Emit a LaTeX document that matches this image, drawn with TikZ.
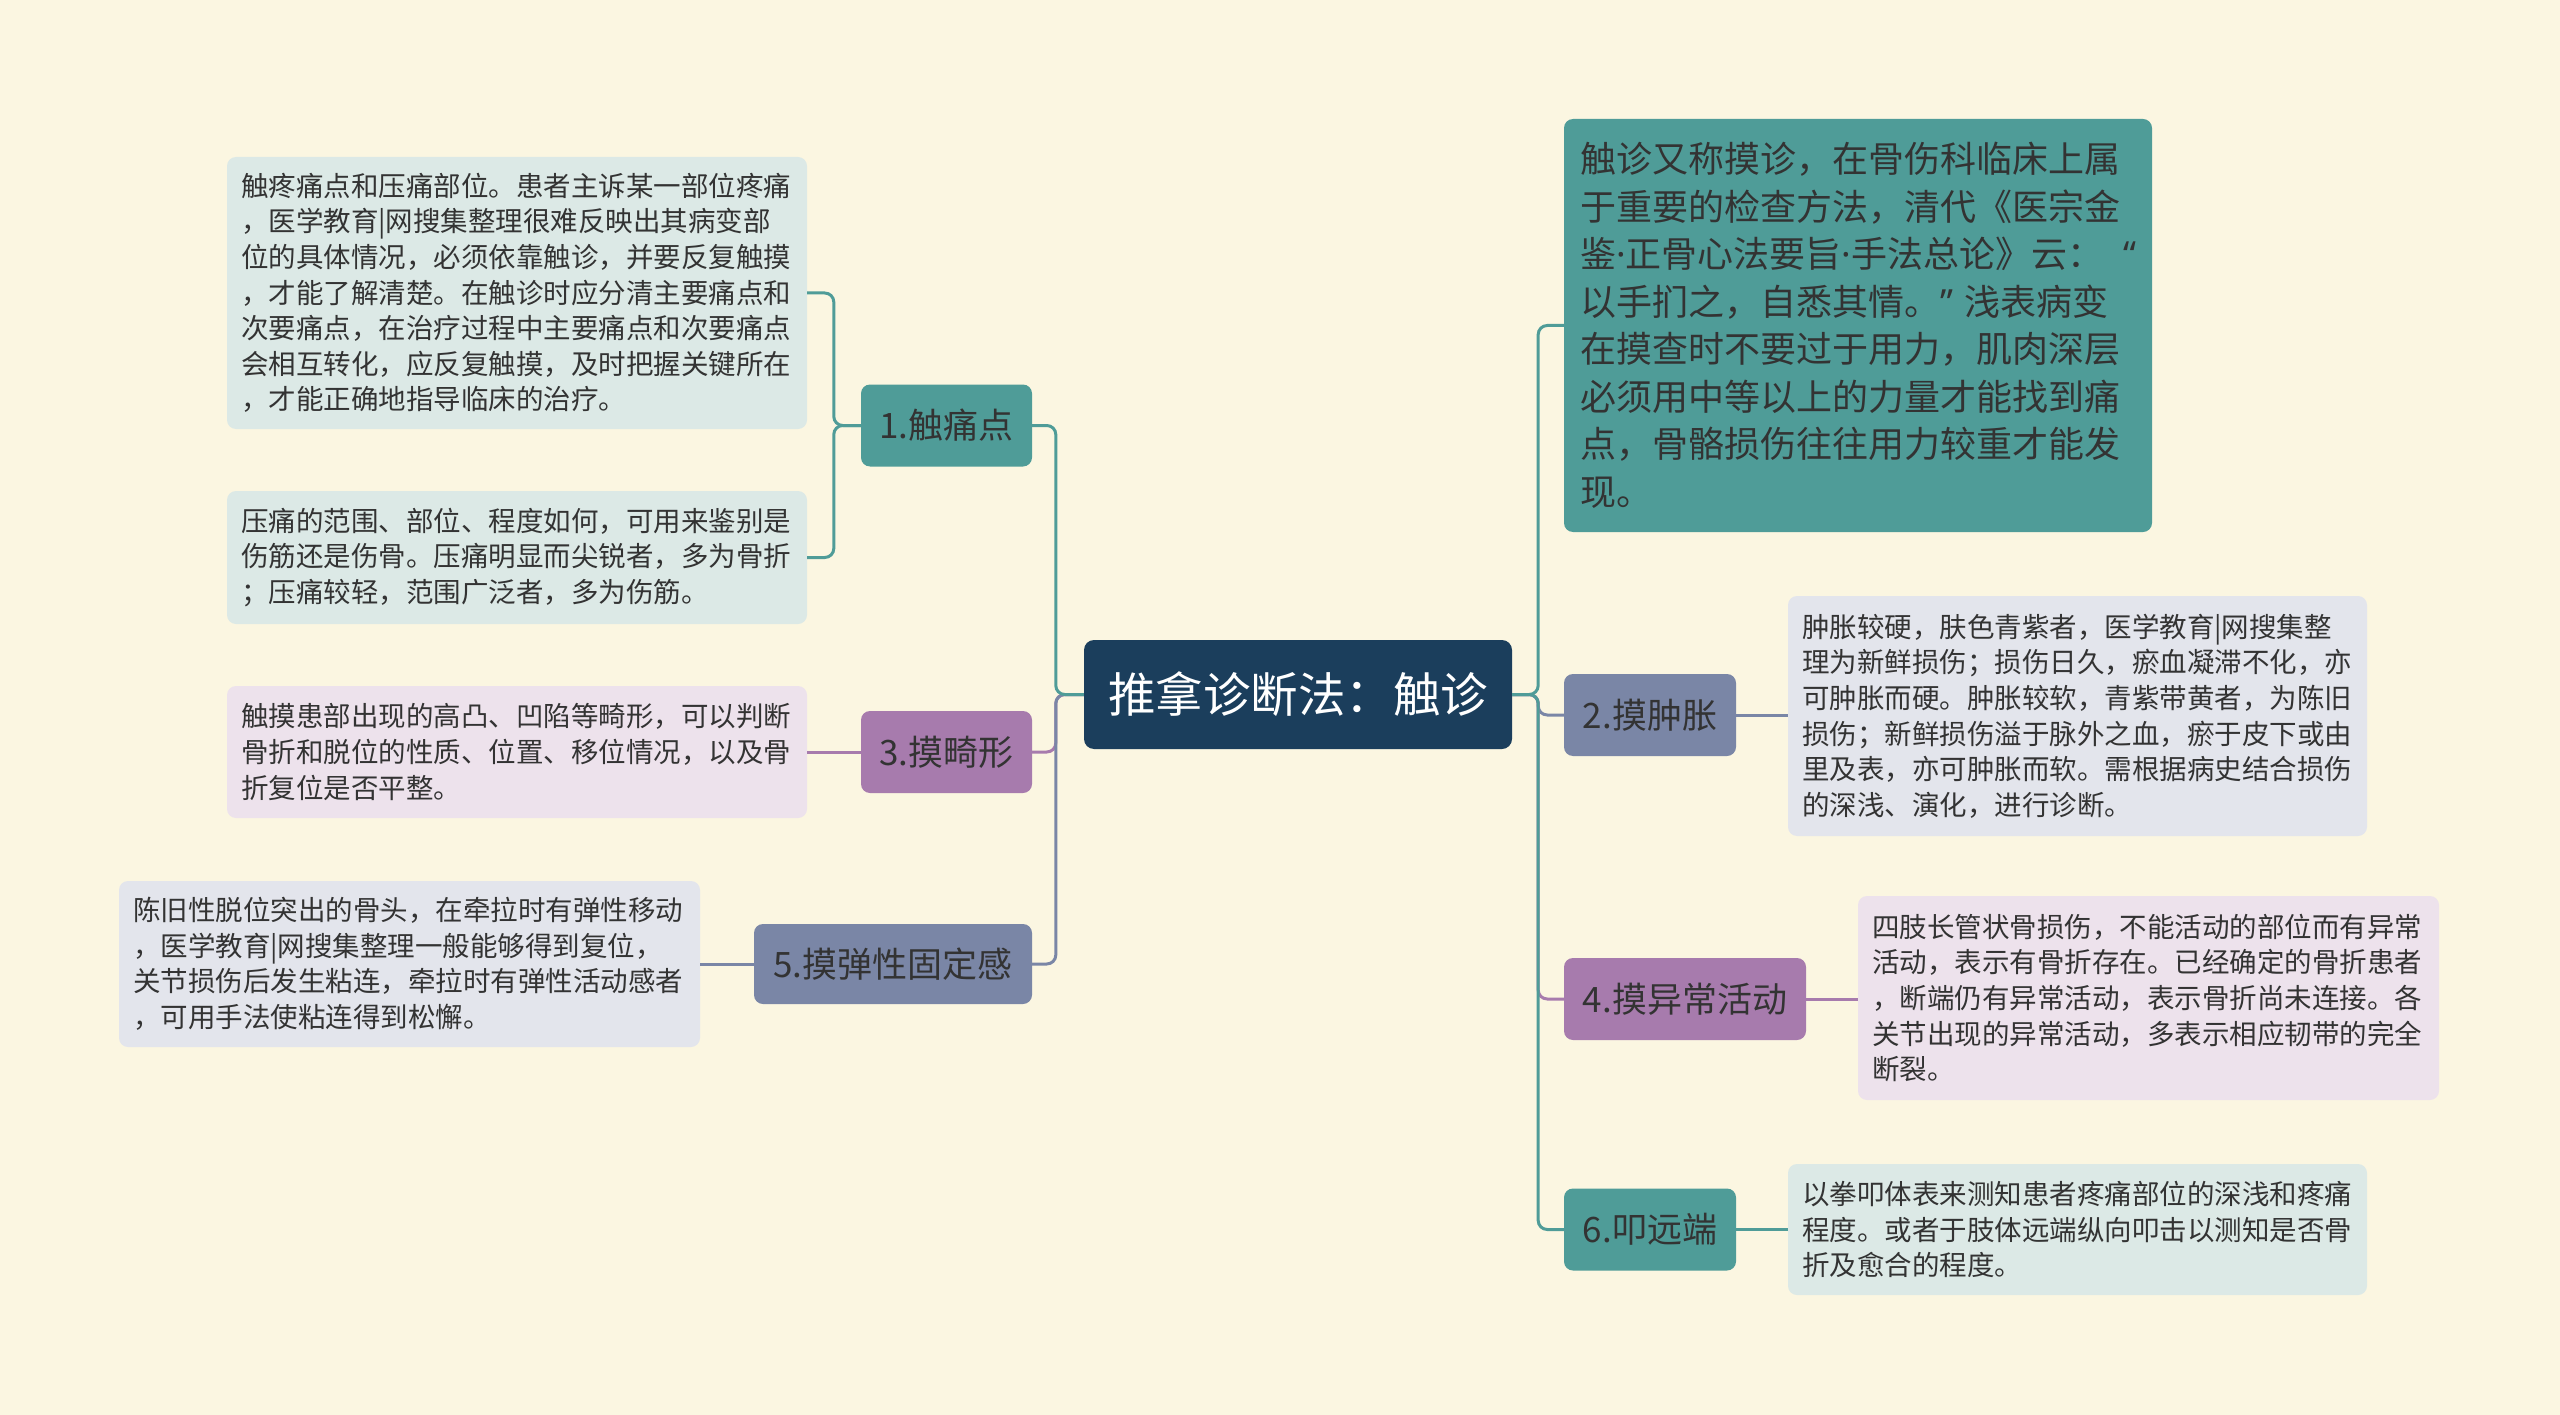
\documentclass[tikz,border=0pt]{standalone}
\usepackage{fontspec}
\setmainfont{Noto Sans CJK SC}
\newfontfamily\latinf{Noto Sans}
\usepackage{xcolor}
\usepackage{tikz}

\definecolor{bgcream}{HTML}{FBF6E1}
\definecolor{rootblue}{HTML}{1B3E5C}
\definecolor{tealc}{HTML}{4F9C98}
\definecolor{slatec}{HTML}{7A86A6}
\definecolor{purplec}{HTML}{A77BAD}
\definecolor{tealbox}{HTML}{DCE9E6}
\definecolor{slatebox}{HTML}{E3E5EC}
\definecolor{purplebox}{HTML}{EDE2EC}
\definecolor{inkc}{HTML}{333333}

\newcommand{\mdot}{{\latinf ·}}

\begin{document}
\begin{tikzpicture}[x=1pt, y=-1pt,
    root/.style={fill=rootblue, text=white, rounded corners=10pt, minimum width=428pt, minimum height=109pt, inner sep=0pt, font=\fontsize{47.5}{56}\selectfont},
    topic/.style={rounded corners=9pt, minimum height=82pt, inner sep=0pt, text=inkc, font=\fontsize{35}{42}\selectfont},
    note/.style={rounded corners=9pt, inner xsep=14pt, inner ysep=0pt, align=left, text=inkc, font=\fontsize{27.5}{35.6}\selectfont},
    link/.style={line width=3pt, rounded corners=9pt}]

    % Canvas
    \useasboundingbox (0,0) rectangle (2560,1415);
    \fill[bgcream] (0,0) rectangle (2560,1415);

    % Root
    \node[root] (root) at (1298,694.5) {推拿诊断法：触诊};

    % Left topics
    \node[topic, fill=tealc, minimum width=171pt] (l1) at (946.5,425.5) {1.触痛点};
    \node[topic, fill=purplec, minimum width=171pt] (l3) at (946.5,752) {3.摸畸形};
    \node[topic, fill=slatec, minimum width=278pt, minimum height=80pt] (l5) at (893,964) {5.摸弹性固定感};

    % Right topics
    \node[topic, fill=slatec, minimum width=172pt] (l2) at (1650,715) {2.摸肿胀};
    \node[topic, fill=purplec, minimum width=242pt] (l4) at (1685,999) {4.摸异常活动};
    \node[topic, fill=tealc, minimum width=172pt] (l6) at (1650,1229.5) {6.叩远端};

    % Notes, left side
    \node[note, fill=tealbox, text width=552pt, minimum height=272pt] (tA) at (517,293) {触疼痛点和压痛部位。患者主诉某一部位疼痛\\，医学教育|网搜集整理很难反映出其病变部\\位的具体情况，必须依靠触诊，并要反复触摸\\，才能了解清楚。在触诊时应分清主要痛点和\\次要痛点，在治疗过程中主要痛点和次要痛点\\会相互转化，应反复触摸，及时把握关键所在\\，才能正确地指导临床的治疗。};
    \node[note, fill=tealbox, text width=552pt, minimum height=133pt] (tB) at (517,557.5) {压痛的范围、部位、程度如何，可用来鉴别是\\伤筋还是伤骨。压痛明显而尖锐者，多为骨折\\；压痛较轻，范围广泛者，多为伤筋。};
    \node[note, fill=purplebox, text width=552pt, minimum height=132pt] (t3) at (517,752) {触摸患部出现的高凸、凹陷等畸形，可以判断\\骨折和脱位的性质、位置、移位情况，以及骨\\折复位是否平整。};
    \node[note, fill=slatebox, text width=553pt, minimum height=166pt] (t5) at (409.5,964) {陈旧性脱位突出的骨头，在牵拉时有弹性移动\\，医学教育|网搜集整理一般能够得到复位，\\关节损伤后发生粘连，牵拉时有弹性活动感者\\，可用手法使粘连得到松懈。};

    % Notes, right side
    \node[note, fill=tealc, text width=556pt, inner xsep=16pt, minimum height=413pt, font=\fontsize{36}{47.5}\selectfont, text=inkc] (tTop) at (1858,325.5) {触诊又称摸诊，在骨伤科临床上属\\于重要的检查方法，清代《医宗金\\鉴\mdot 正骨心法要旨\mdot 手法总论》云：\hfill{\latinf “}\\以手扪之，自悉其情。{\latinf ”} 浅表病变\\在摸查时不要过于用力，肌肉深层\\必须用中等以上的力量才能找到痛\\点，骨骼损伤往往用力较重才能发\\现。};
    \node[note, fill=slatebox, text width=551pt, minimum height=240pt] (t2) at (2077.5,716) {肿胀较硬，肤色青紫者，医学教育|网搜集整\\理为新鲜损伤；损伤日久，瘀血凝滞不化，亦\\可肿胀而硬。肿胀较软，青紫带黄者，为陈旧\\损伤；新鲜损伤溢于脉外之血，瘀于皮下或由\\里及表，亦可肿胀而软。需根据病史结合损伤\\的深浅、演化，进行诊断。};
    \node[note, fill=purplebox, text width=553pt, minimum height=204pt] (t4) at (2148.5,998) {四肢长管状骨损伤，不能活动的部位而有异常\\活动，表示有骨折存在。已经确定的骨折患者\\，断端仍有异常活动，表示骨折尚未连接。各\\关节出现的异常活动，多表示相应韧带的完全\\断裂。};
    \node[note, fill=tealbox, text width=551pt, minimum height=131pt] (t6) at (2077.5,1229.5) {以拳叩体表来测知患者疼痛部位的深浅和疼痛\\程度。或者于肢体远端纵向叩击以测知是否骨\\折及愈合的程度。};

    % Links from root, left
    \draw[link, purplec] (root.west) -- ++(-28,0) |- (l3.east);
    \draw[link, slatec] (root.west) -- ++(-28,0) |- (l5.east);
    \draw[link, tealc] (root.west) -- ++(-28,0) |- (l1.east);

    % Links from root, right
    \draw[link, slatec] (root.east) -- ++(26,0) |- (l2.west);
    \draw[link, purplec] (root.east) -- ++(26,0) |- (l4.west);
    \draw[link, tealc] (root.east) -- ++(26,0) |- (l6.west);
    \draw[link, tealc] (root.east) -- ++(26,0) |- (tTop.west);

    % Links to notes
    \draw[link, tealc] (l1.west) -- ++(-27,0) |- (tA.east);
    \draw[link, tealc] (l1.west) -- ++(-27,0) |- (tB.east);
    \draw[link, purplec] (l3.west) -- (l3.west -| t3.east);
    \draw[link, slatec] (l5.west) -- (l5.west -| t5.east);
    \draw[link, slatec] (l2.east) -- (l2.east -| t2.west);
    \draw[link, purplec] (l4.east) -- (l4.east -| t4.west);
    \draw[link, tealc] (l6.east) -- (l6.east -| t6.west);
\end{tikzpicture}
\end{document}
